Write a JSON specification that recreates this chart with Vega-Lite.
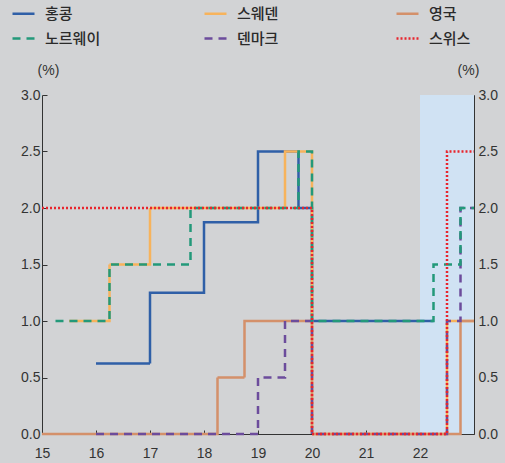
{
  "$schema": "https://vega.github.io/schema/vega-lite/v6.json",
  "autosize": {"type": "none"},
  "width": 432,
  "height": 339,
  "padding": {"left": 42, "top": 95, "right": 31, "bottom": 29},
  "background": "#d2d3d5",
  "config": {
    "view": {"stroke": null},
    "font": "Liberation Sans",
    "axis": {
      "grid": false,
      "domainColor": "#333333",
      "tickColor": "#333333",
      "labelColor": "#333333",
      "labelFontSize": 14,
      "labelFont": "Liberation Sans",
      "titleFont": "Liberation Sans",
      "titleFontSize": 14,
      "titleFontWeight": "normal",
      "titleColor": "#333333"
    },
    "legend": {
      "orient": "none",
      "legendX": -31,
      "legendY": -94,
      "direction": "horizontal",
      "columns": 3,
      "gridAlign": "all",
      "columnPadding": 98,
      "rowPadding": 4,
      "symbolType": "stroke",
      "symbolSize": 484,
      "symbolStrokeWidth": 2.5,
      "labelOffset": 9,
      "labelFont": "Noto Sans CJK KR",
      "labelFontSize": 15,
      "labelFontWeight": 500,
      "labelColor": "#2a2a2a",
      "padding": 0,
      "title": null
    }
  },
  "datasets": {
    "rates": [
      {"country": "홍콩", "year": 16, "rate": 0.625},
      {"country": "홍콩", "year": 17, "rate": 1.25},
      {"country": "홍콩", "year": 18, "rate": 1.875},
      {"country": "홍콩", "year": 19, "rate": 2.5},
      {"country": "홍콩", "year": 19.75, "rate": 2.0},
      {"country": "홍콩", "year": 20, "rate": 1.0},
      {"country": "홍콩", "year": 22.25, "rate": 1.0},
      {"country": "스웨덴", "year": 15.5, "rate": 1.0},
      {"country": "스웨덴", "year": 16.25, "rate": 1.5},
      {"country": "스웨덴", "year": 17, "rate": 2.0},
      {"country": "스웨덴", "year": 19.5, "rate": 2.5},
      {"country": "스웨덴", "year": 20, "rate": 0},
      {"country": "스웨덴", "year": 22.5, "rate": 1.0},
      {"country": "스웨덴", "year": 23, "rate": 1.0},
      {"country": "영국", "year": 15, "rate": 0},
      {"country": "영국", "year": 18.25, "rate": 0.5},
      {"country": "영국", "year": 18.75, "rate": 1.0},
      {"country": "영국", "year": 20, "rate": 0},
      {"country": "영국", "year": 22.75, "rate": 1.0},
      {"country": "영국", "year": 23, "rate": 1.0},
      {"country": "덴마크", "year": 16, "rate": 0},
      {"country": "덴마크", "year": 19, "rate": 0.5},
      {"country": "덴마크", "year": 19.5, "rate": 1.0},
      {"country": "덴마크", "year": 20, "rate": 0},
      {"country": "덴마크", "year": 22.5, "rate": 1.0},
      {"country": "덴마크", "year": 22.75, "rate": 2.0},
      {"country": "덴마크", "year": 23, "rate": 2.0},
      {"country": "노르웨이", "year": 15.25, "rate": 1.0},
      {"country": "노르웨이", "year": 16.25, "rate": 1.5},
      {"country": "노르웨이", "year": 17.75, "rate": 2.0},
      {"country": "노르웨이", "year": 19.75, "rate": 2.5},
      {"country": "노르웨이", "year": 20, "rate": 1.0},
      {"country": "노르웨이", "year": 22.25, "rate": 1.5},
      {"country": "노르웨이", "year": 22.75, "rate": 2.0},
      {"country": "노르웨이", "year": 23, "rate": 2.0},
      {"country": "스위스", "year": 15, "rate": 2.0},
      {"country": "스위스", "year": 20, "rate": 0},
      {"country": "스위스", "year": 22.5, "rate": 2.5},
      {"country": "스위스", "year": 23, "rate": 2.5}
    ],
    "shade": [
      {"start": 22, "end": 23, "low": 0, "high": 3}
    ]
  },
  "layer": [
    {
      "data": {"name": "shade"},
      "mark": {"type": "rect", "color": "#d0e2f3"},
      "encoding": {
        "x": {"field": "start", "type": "quantitative", "scale": {"domain": [15, 23], "nice": false}},
        "x2": {"field": "end"},
        "y": {
          "field": "low", "type": "quantitative",
          "scale": {"domain": [0, 3], "nice": false},
          "axis": {
            "orient": "right",
            "values": [0, 0.5, 1, 1.5, 2, 2.5, 3],
            "format": ".1f",
            "tickSize": -5,
            "labelPadding": 9,
            "title": "(%)",
            "titleAngle": 0,
            "titleX": -6,
            "titleY": -25,
            "titleAlign": "center",
            "titleBaseline": "middle"
          }
        },
        "y2": {"field": "high"}
      }
    },
    {
      "data": {"name": "rates"},
      "mark": {"type": "line", "interpolate": "step-after", "strokeWidth": 2.5},
      "encoding": {
        "x": {
          "field": "year", "type": "quantitative",
          "scale": {"domain": [15, 23], "nice": false},
          "axis": {
            "title": null,
            "values": [15, 15.25, 15.5, 15.75, 16, 16.25, 16.5, 16.75, 17, 17.25, 17.5, 17.75, 18, 18.25, 18.5, 18.75, 19, 19.25, 19.5, 19.75, 20, 20.25, 20.5, 20.75, 21, 21.25, 21.5, 21.75, 22, 22.25, 22.5, 22.75],
            "labelExpr": "datum.value % 1 === 0 ? format(datum.value, 'd') : ''",
            "tickSize": -4,
            "labelPadding": 16,
            "labelFlush": false,
            "labelOverlap": false
          }
        },
        "y": {
          "field": "rate", "type": "quantitative",
          "scale": {"domain": [0, 3], "nice": false},
          "axis": {
            "orient": "left",
            "values": [0, 0.5, 1, 1.5, 2, 2.5, 3],
            "format": ".1f",
            "tickSize": -5,
            "labelPadding": 7,
            "title": "(%)",
            "titleAngle": 0,
            "titleX": 6,
            "titleY": -25,
            "titleAlign": "center",
            "titleBaseline": "middle"
          }
        },
        "color": {
          "field": "country", "type": "nominal",
          "scale": {
            "domain": ["홍콩", "스웨덴", "영국", "노르웨이", "덴마크", "스위스"],
            "range": ["#2f5fa7", "#f7b35c", "#d4906a", "#23997a", "#6c4c9c", "#e8252d"]
          },
          "legend": {"title": null}
        },
        "strokeDash": {
          "field": "country", "type": "nominal",
          "scale": {
            "domain": ["홍콩", "스웨덴", "영국", "노르웨이", "덴마크", "스위스"],
            "range": [[1, 0], [1, 0], [1, 0], [8, 6], [8, 6], [2, 2]]
          },
          "legend": {"title": null}
        }
      }
    }
  ],
  "resolve": {"scale": {"y": "independent"}, "axis": {"y": "independent"}}
}
